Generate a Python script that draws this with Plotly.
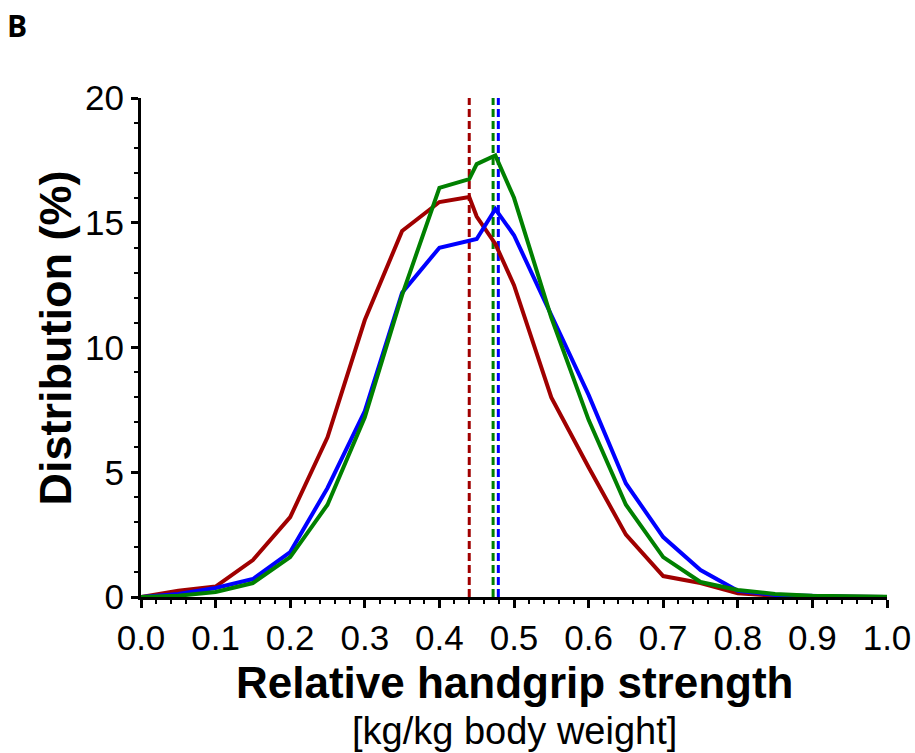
import plotly.graph_objects as go

# Data
x_vals = [0.0, 0.05, 0.10, 0.15, 0.20, 0.25, 0.30, 0.35, 0.40, 0.44, 0.45, 0.475,
          0.50, 0.55, 0.60, 0.65, 0.70, 0.75, 0.80, 0.85, 0.90, 0.95, 1.00]
red_vals = [0.0, 0.25, 0.42, 1.48, 3.2, 6.4, 11.1, 14.67, 15.83, 16.03, 15.25, 14.15,
            12.5, 8.0, 5.2, 2.5, 0.84, 0.56, 0.15, 0.05, 0.02, 0.01, 0.0]
blue_vals = [0.0, 0.12, 0.36, 0.72, 1.8, 4.37, 7.45, 12.2, 14.0, 14.25, 14.35, 15.55,
             14.5, 11.3, 8.1, 4.55, 2.4, 1.08, 0.25, 0.08, 0.03, 0.01, 0.0]
green_vals = [0.0, 0.05, 0.2, 0.56, 1.6, 3.7, 7.2, 12.1, 16.4, 16.75, 17.35, 17.7,
              16.0, 11.2, 7.1, 3.7, 1.6, 0.6, 0.28, 0.12, 0.05, 0.02, 0.01]
mean_vals = {"red": 0.44, "green": 0.472, "blue": 0.479}

x_ticks = [0.0, 0.1, 0.2, 0.3, 0.4, 0.5, 0.6, 0.7, 0.8, 0.9, 1.0]
y_ticks = [0, 5, 10, 15, 20]

colors = {"red": "#A00000", "blue": "#0000FF", "green": "#008000"}
FONT = "Liberation Sans, Arial, sans-serif"

fig = go.Figure()

# mean dashed lines (drawn beneath curves)
for key in ["red", "green", "blue"]:
    m = mean_vals[key]
    fig.add_trace(go.Scatter(x=[m, m], y=[0, 20], mode="lines",
                             line=dict(color=colors[key], width=3, dash="8px,4px"),
                             showlegend=False, hoverinfo="skip", cliponaxis=False))

for key, vals in [("red", red_vals), ("blue", blue_vals), ("green", green_vals)]:
    fig.add_trace(go.Scatter(x=x_vals, y=vals, mode="lines",
                             line=dict(color=colors[key], width=4),
                             showlegend=False, cliponaxis=False))

fig.update_layout(
    width=915, height=753,
    margin=dict(l=141, r=28, t=98, b=156, autoexpand=False),
    plot_bgcolor="white", paper_bgcolor="white",
    font=dict(family=FONT, color="black"),
    xaxis=dict(range=[0, 1], tickvals=x_ticks, ticktext=[f"{v:.1f}" for v in x_ticks],
               showline=True, linecolor="black", linewidth=3, mirror=False,
               ticks="outside", ticklen=8, tickwidth=2.5, tickcolor="black",
               minor=dict(dtick=0.02, ticks="outside", ticklen=4, tickwidth=1.5, tickcolor="black"),
               showgrid=False, zeroline=False, automargin=False,
               tickfont=dict(size=35, family=FONT)),
    yaxis=dict(range=[0, 20], tickvals=y_ticks, ticktext=[str(v) for v in y_ticks],
               showline=True, linecolor="black", linewidth=3,
               ticks="outside", ticklen=7, tickwidth=2.5, tickcolor="black",
               minor=dict(dtick=1, ticks="outside", ticklen=4, tickwidth=1.5, tickcolor="black"),
               showgrid=False, zeroline=False, automargin=False,
               tickfont=dict(size=35, family=FONT)),
)

fig.add_annotation(text="<b>Distribution (%)</b>", textangle=-90,
                   xref="paper", yref="paper", x=-0.114, y=0.52,
                   xanchor="center", yanchor="middle", showarrow=False,
                   font=dict(size=45, family=FONT, color="black"))
fig.add_annotation(text="<b>Relative handgrip strength</b>",
                   xref="paper", yref="paper", x=0.5, y=-0.172,
                   xanchor="center", yanchor="middle", showarrow=False,
                   font=dict(size=44, family=FONT, color="black"))
fig.add_annotation(text="[kg/kg body weight]",
                   xref="paper", yref="paper", x=0.5, y=-0.269,
                   xanchor="center", yanchor="middle", showarrow=False,
                   font=dict(size=38, family=FONT, color="black"))
fig.add_annotation(text="<b>B</b>",
                   xref="paper", yref="paper", x=-0.166, y=1.146,
                   xanchor="center", yanchor="middle", showarrow=False,
                   font=dict(size=30, family="Open Sans, sans-serif", color="black"))

fig.write_html("out.html")
